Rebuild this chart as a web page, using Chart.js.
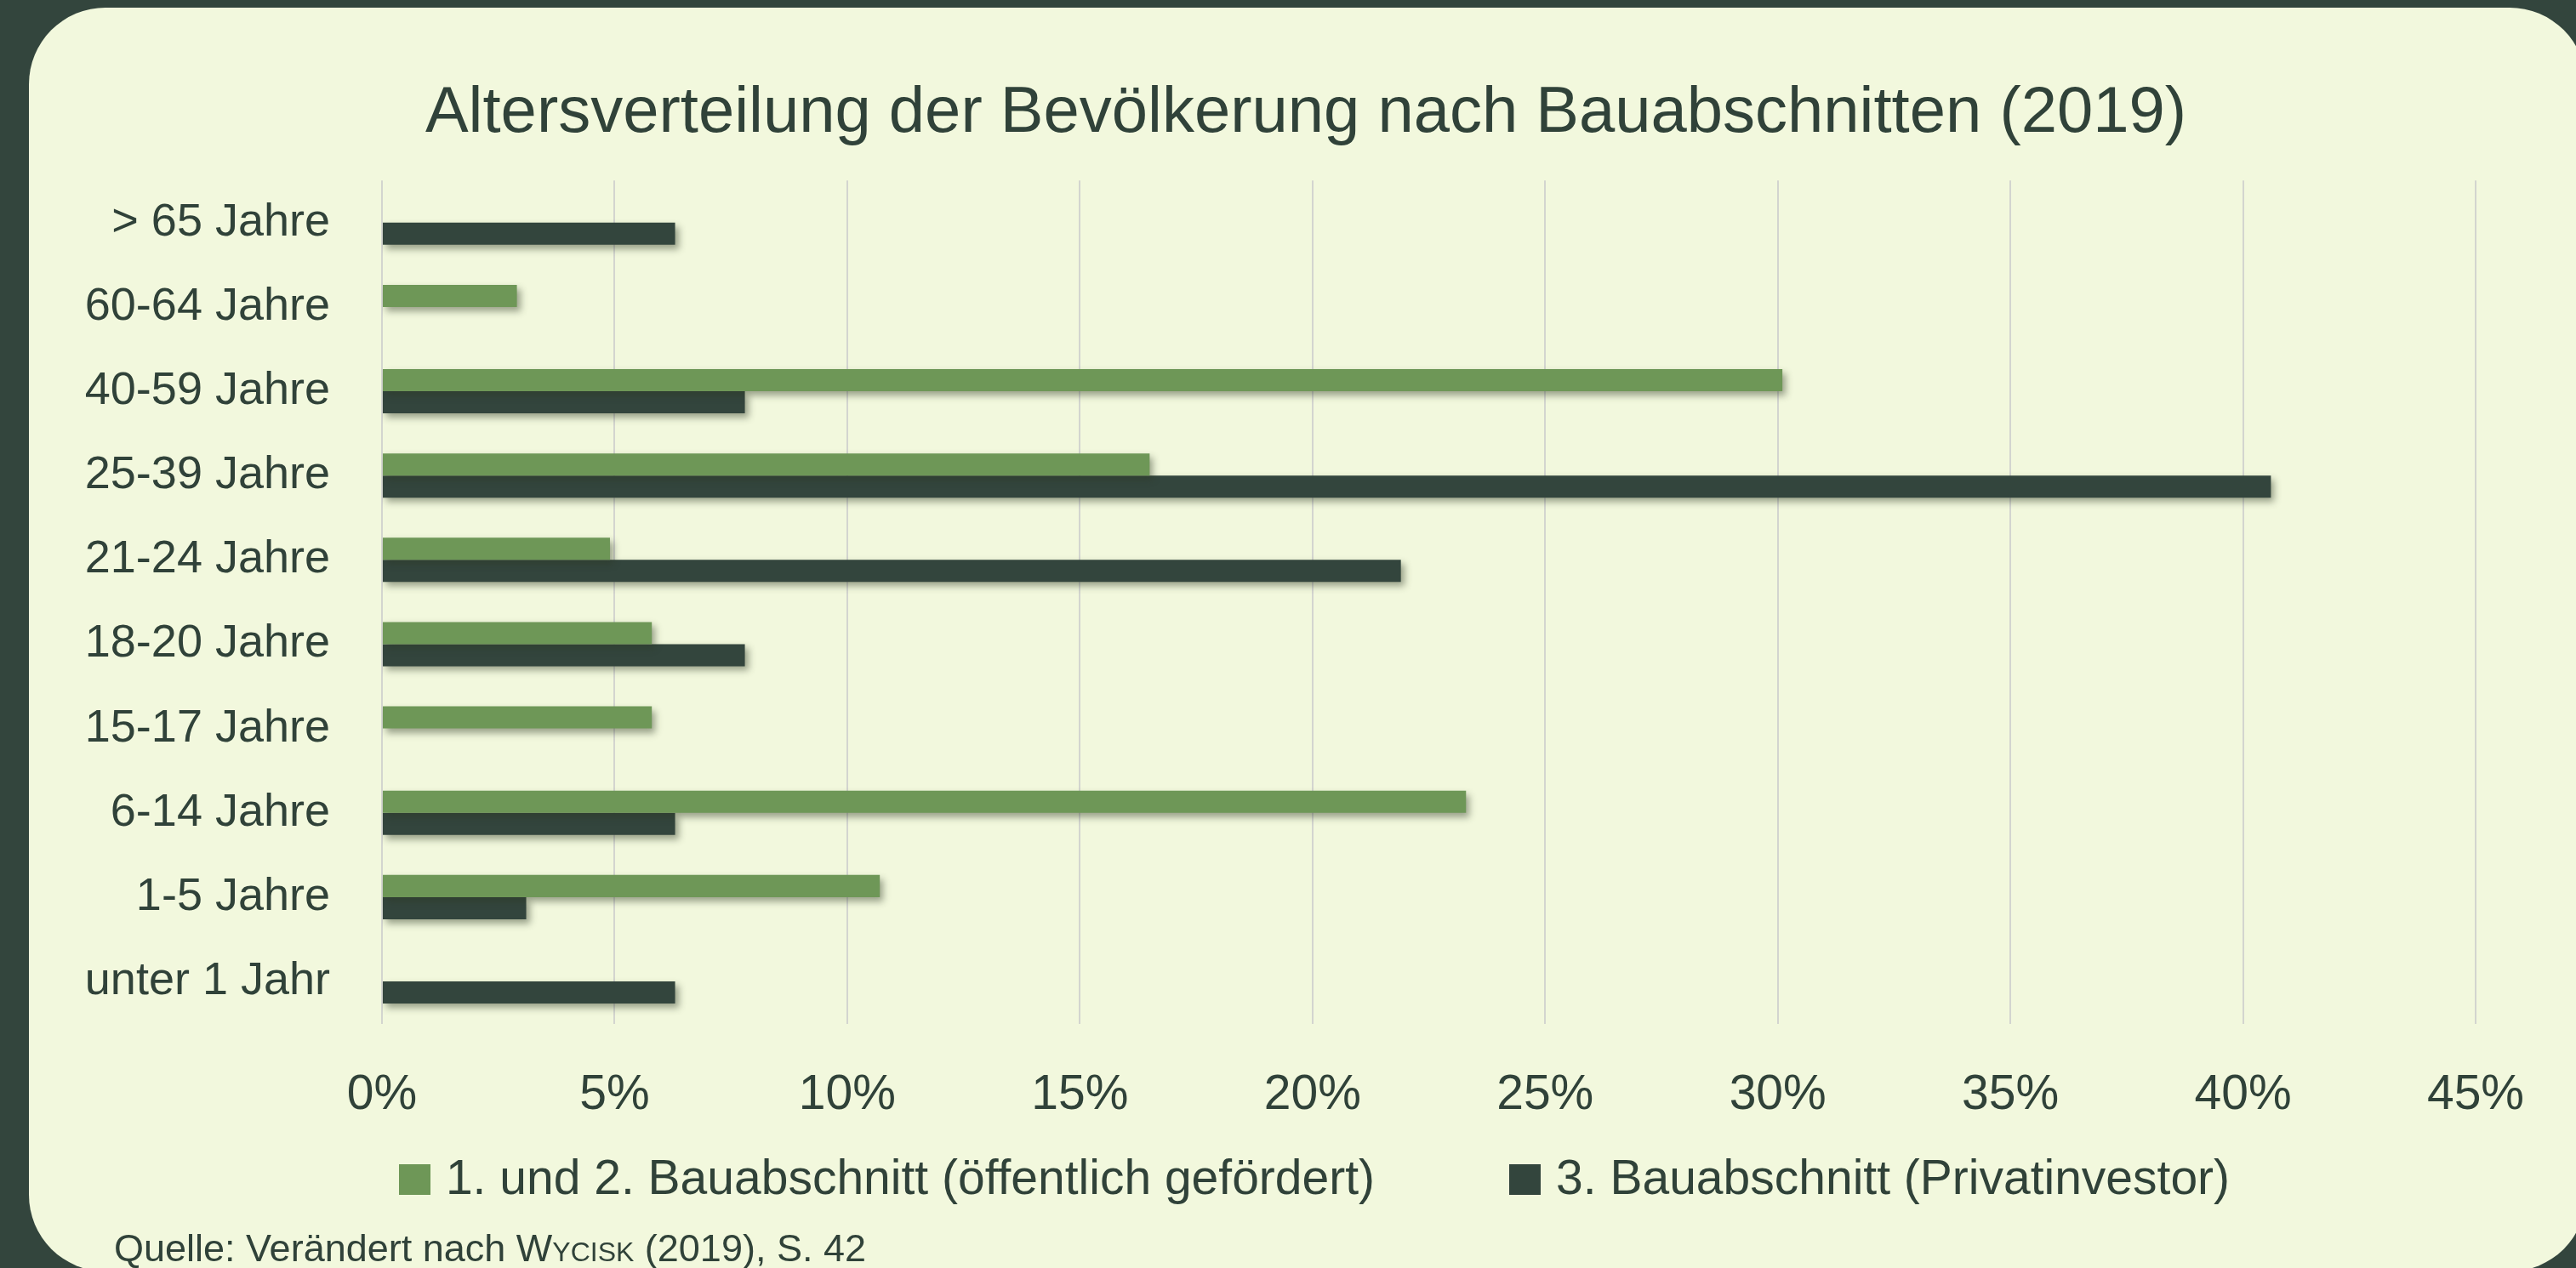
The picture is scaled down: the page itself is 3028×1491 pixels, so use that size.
<!DOCTYPE html>
<html lang="de">
<head>
<meta charset="utf-8">
<title>Altersverteilung der Bevölkerung nach Bauabschnitten (2019)</title>
<script src="https://cdn.jsdelivr.net/npm/chart.js@4"></script>
<style>
    html, body {
        margin: 0;
        padding: 0;
        width: 3028px;
        height: 1491px;
        overflow: hidden;
        background: #33453d;
        font-family: 'Liberation Sans', Arial, sans-serif;
        color: #304239;
    }
    .card {
        position: absolute;
        left: 34px;
        top: 9px;
        width: 3006px;
        height: 1486px;
        border-radius: 90px;
        background: #f2f8dd;
    }
    #chart {
        position: absolute;
        left: 0;
        top: 0;
    }
    .legend {
        position: absolute;
        top: 1356px;
        left: 0;
        width: 3090px;
        display: flex;
        justify-content: center;
        gap: 158px;
        font-size: 57px;
        line-height: 57px;
    }
    .legend-item {
        display: flex;
        align-items: center;
        gap: 18px;
    }
    .legend-box {
        width: 37px;
        height: 36px;
        position: relative;
        top: 2px;
    }
    .source {
        position: absolute;
        left: 134px;
        top: 1445px;
        font-size: 45px;
        line-height: 45px;
        white-space: nowrap;
    }
    .sc { font-variant: small-caps; }
</style>
</head>
<body>
<div class="card"></div>
<canvas id="chart" width="3028" height="1491"></canvas>
<div class="legend" id="legend"></div>
<div class="source">Quelle: Verändert nach W<span class="sc">ycisk</span> (2019), S. 42</div>

<script>
// --- Data (top to bottom as in the picture) ---
const ageGroups = ['> 65 Jahre', '60-64 Jahre', '40-59 Jahre', '25-39 Jahre', '21-24 Jahre',
    '18-20 Jahre', '15-17 Jahre', '6-14 Jahre', '1-5 Jahre', 'unter 1 Jahr'];

// share in percent
const publicShare = [0, 2.9, 30.1, 16.5, 4.9, 5.8, 5.8, 23.3, 10.7, 0];
const privateShare = [6.3, 0, 7.8, 40.6, 21.9, 7.8, 0, 6.3, 3.1, 6.3];

const seriesNames = ['1. und 2. Bauabschnitt (öffentlich gefördert)', '3. Bauabschnitt (Privatinvestor)'];
const xTicks = [0, 5, 10, 15, 20, 25, 30, 35, 40, 45];

const GREEN = '#6e9757';
const DARK = '#33453d';
const TEXT = '#304239';

Chart.defaults.font.family = "'Liberation Sans', Arial, sans-serif";
Chart.defaults.color = TEXT;

// soft drop shadow under the bars
const barShadow = {
    id: 'barShadow',
    beforeDatasetsDraw(chart) {
        const ctx = chart.ctx;
        ctx.save();
        ctx.shadowColor = 'rgba(45, 55, 35, 0.45)';
        ctx.shadowBlur = 8;
        ctx.shadowOffsetX = 4;
        ctx.shadowOffsetY = 5;
    },
    afterDatasetsDraw(chart) {
        chart.ctx.restore();
    }
};

const ctx = document.getElementById('chart').getContext('2d');
const chart = new Chart(ctx, {
    type: 'bar',
    data: {
        labels: ageGroups,
        datasets: [
            { label: seriesNames[0], data: publicShare, backgroundColor: GREEN },
            { label: seriesNames[1], data: privateShare, backgroundColor: DARK }
        ]
    },
    options: {
        indexAxis: 'y',
        responsive: false,
        animation: false,
        // left padding = card edge, so the title centres on the card
        layout: { padding: { top: 0, left: 42, right: 0, bottom: 119 } },
        datasets: {
            bar: { categoryPercentage: 0.525, barPercentage: 1.0 }
        },
        plugins: {
            legend: { display: false },
            tooltip: { enabled: false },
            title: {
                display: true,
                text: 'Altersverteilung der Bevölkerung nach Bauabschnitten (2019)',
                color: TEXT,
                font: { size: 76, weight: 'normal' },
                padding: { top: 88, bottom: 33 }
            }
        },
        scales: {
            x: {
                min: 0,
                max: 45,
                afterBuildTicks: s => { s.ticks = xTicks.map(v => ({ value: v })); },
                ticks: {
                    callback: v => v + '%',
                    font: { size: 57 },
                    color: TEXT,
                    padding: 50,
                    maxRotation: 0
                },
                grid: { color: '#d3d5cf', lineWidth: 2, drawTicks: false },
                border: { display: false }
            },
            y: {
                grid: { display: false, drawTicks: false },
                border: { display: false },
                ticks: { font: { size: 54 }, color: TEXT, padding: 61 },
                afterFit: s => { s.width = 407; }
            },
            // empty spacer on the right side of the plot
            yRight: {
                type: 'category',
                position: 'right',
                grid: { display: false, drawTicks: false },
                border: { display: false },
                ticks: { display: false },
                afterFit: s => { s.width = 118; }
            }
        }
    },
    plugins: [barShadow]
});

// --- Legend ---
const legendEl = document.getElementById('legend');
chart.data.datasets.forEach(ds => {
    const item = document.createElement('div');
    item.className = 'legend-item';
    item.innerHTML = `<span class="legend-box" style="background:${ds.backgroundColor}"></span><span>${ds.label}</span>`;
    legendEl.appendChild(item);
});
</script>
</body>
</html>
